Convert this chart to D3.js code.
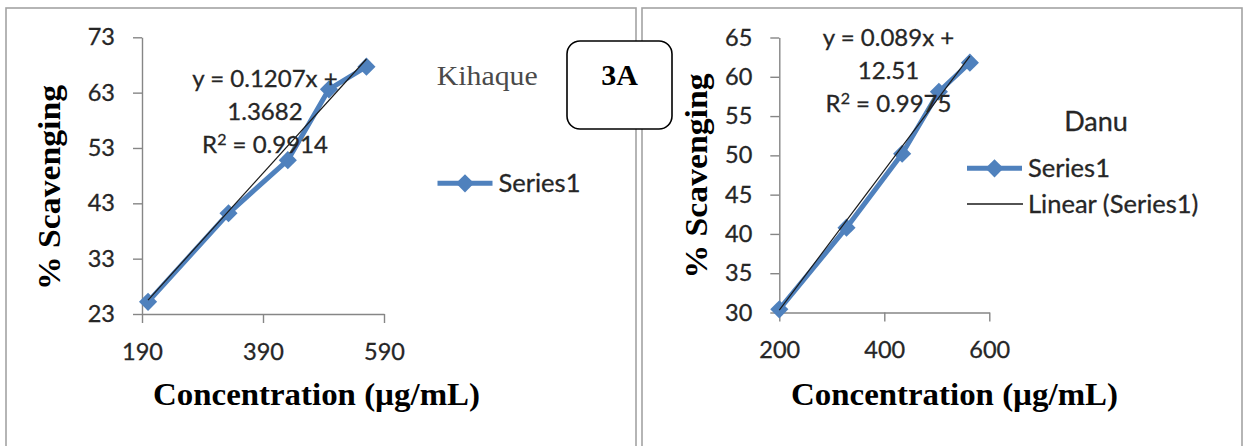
<!DOCTYPE html>
<html>
<head>
<meta charset="utf-8">
<script src="https://cdn.jsdelivr.net/npm/d3@7"></script>
<style>
  html, body { margin: 0; padding: 0; background: #fff; }
  svg { display: block; }
</style>
</head>
<body>
<svg id="chart" width="1243" height="446"></svg>
<script>
// DPPH scavenging vs. concentration for two cultivars

// Kihaque
const kihaqueConc = [200, 333, 431, 499, 561];
const kihaqueScav = [25.2, 41.2, 50.8, 63.6, 67.7];
const kihaqueXTicks = [190, 390, 590];
const kihaqueYTicks = [23, 33, 43, 53, 63, 73];
const kihaqueFit = [0.1207, 1.3682];          // slope, intercept
const kihaqueEq = ["y = 0.1207x +", "1.3682", "R² = 0.9914"];

// Danu
const danuConc = [200, 328, 434, 504, 563];
const danuScav = [30.4, 40.8, 50.2, 58.1, 61.8];
const danuXTicks = [200, 400, 600];
const danuYTicks = [30, 35, 40, 45, 50, 55, 60, 65];
const danuFit = [0.089, 12.51];
const danuEq = ["y = 0.089x +", "12.51", "R² = 0.9975"];

const BLUE = "#4f81bd";
const AXIS = "#868686";
const TEXT = "#262626";
const SANS = "Lato, 'Open Sans', sans-serif";
const SERIF = "'Liberation Serif', 'Times New Roman', serif";

const svg = d3.select("#chart");
svg.append("rect").attr("width", 1243).attr("height", 446).attr("fill", "#fff");

// panel frames
svg.append("rect").attr("x", 6).attr("y", 8).attr("width", 630).attr("height", 460)
  .attr("fill", "none").attr("stroke", "#a3a3a3").attr("stroke-width", 1.6);
svg.append("rect").attr("x", 642).attr("y", 8).attr("width", 600).attr("height", 460)
  .attr("fill", "none").attr("stroke", "#a3a3a3").attr("stroke-width", 1.6);

const diamond = d3.symbol().type(d3.symbolDiamond2).size(210);

function drawPanel(cfg) {
  const g = svg.append("g");
  const x = d3.scaleLinear().domain(cfg.xDomain).range(cfg.xRange);
  const y = d3.scaleLinear().domain(cfg.yDomain).range(cfg.yRange);

  const yAxis = g.append("g").attr("transform", `translate(${cfg.xRange[0]},0)`)
    .call(d3.axisLeft(y).tickValues(cfg.yTicks).tickFormat(d3.format("d"))
      .tickSize(9).tickSizeOuter(0).tickPadding(18));
  const xAxis = g.append("g").attr("transform", `translate(0,${cfg.yRange[0]})`)
    .call(d3.axisBottom(x).tickValues(cfg.xTicks).tickFormat(d3.format("d"))
      .tickSize(9).tickSizeOuter(0).tickPadding(20));
  [yAxis, xAxis].forEach(a => {
    a.select(".domain").attr("stroke", AXIS).attr("stroke-width", 1.4);
    a.selectAll(".tick line").attr("stroke", AXIS).attr("stroke-width", 1.4);
    a.selectAll(".tick text").attr("fill", TEXT)
      .attr("stroke", TEXT).attr("stroke-width", 0.3)
      .style("font-family", SANS).style("font-size", "23.5px");
  });

  const pts = cfg.conc.map((c, i) => [c, cfg.scav[i]]);

  // data series
  g.append("path").datum(pts)
    .attr("d", d3.line().x(d => x(d[0])).y(d => y(d[1])))
    .attr("fill", "none").attr("stroke", BLUE).attr("stroke-width", 5)
    .attr("stroke-linejoin", "round");
  g.selectAll(".mk").data(pts).join("path")
    .attr("transform", d => `translate(${x(d[0])},${y(d[1])})`)
    .attr("d", diamond).attr("fill", BLUE);

  // linear trendline from the fitted equation
  const [m, b] = cfg.fit;
  const xs = d3.extent(cfg.conc);
  g.append("path").datum(xs.map(v => [v, m * v + b]))
    .attr("d", d3.line().x(d => x(d[0])).y(d => y(d[1])))
    .attr("fill", "none").attr("stroke", "#1a1a1a").attr("stroke-width", 1.2);

  // equation label; the "²" is set as a raised, smaller digit
  const eq = g.append("text").attr("text-anchor", "middle")
    .attr("stroke", TEXT).attr("stroke-width", 0.3)
    .style("font-family", SANS).style("font-size", "24px").attr("fill", TEXT);
  cfg.eq.forEach((line, i) => {
    const yy = cfg.eqY + i * 33;
    const parts = line.split("²");
    if (parts.length === 1) {
      eq.append("tspan").attr("x", cfg.eqX).attr("y", yy).text(line);
    } else {
      eq.append("tspan").attr("x", cfg.eqX).attr("y", yy).text(parts[0])
        .append("tspan").attr("dy", -8).style("font-size", "16px").text("2");
      eq.select("tspan:last-child").append("tspan").attr("dy", 8).text(parts[1]);
    }
  });

  // axis titles
  g.append("text").attr("x", cfg.xTitleX).attr("y", 405).attr("text-anchor", "middle")
    .attr("textLength", 327).attr("lengthAdjust", "spacingAndGlyphs")
    .style("font-family", SERIF).style("font-weight", "bold").style("font-size", "31px")
    .attr("fill", "#000").text("Concentration (µg/mL)");
  g.append("text").attr("transform", `translate(${cfg.yTitleX},${cfg.yTitleY}) rotate(-90)`)
    .attr("text-anchor", "middle")
    .attr("textLength", 205).attr("lengthAdjust", "spacingAndGlyphs")
    .style("font-family", SERIF).style("font-weight", "bold").style("font-size", "31px")
    .attr("fill", "#000").text("% Scavenging");
  return g;
}

drawPanel({
  conc: kihaqueConc, scav: kihaqueScav, fit: kihaqueFit, eq: kihaqueEq,
  xDomain: [190, 590], xRange: [142, 384], yDomain: [23, 73], yRange: [314, 37.3],
  xTicks: kihaqueXTicks, yTicks: kihaqueYTicks,
  eqX: 265, eqY: 87, xTitleX: 316.5, yTitleX: 60, yTitleY: 187.5
});
drawPanel({
  conc: danuConc, scav: danuScav, fit: danuFit, eq: danuEq,
  xDomain: [200, 600], xRange: [779.3, 989.3], yDomain: [30, 65], yRange: [312.5, 37.5],
  xTicks: danuXTicks, yTicks: danuYTicks,
  eqX: 888.5, eqY: 46, xTitleX: 954.5, yTitleX: 707, yTitleY: 176
});

// Kihaque title and legend
svg.append("text").attr("x", 436.7).attr("y", 85)
  .attr("textLength", 101).attr("lengthAdjust", "spacingAndGlyphs")
  .style("font-family", SERIF).style("font-size", "28px").attr("fill", "#4a4a4a")
  .text("Kihaque");

function legendSeries(x0, yc, label) {
  svg.append("line").attr("x1", x0).attr("x2", x0 + 55).attr("y1", yc).attr("y2", yc)
    .attr("stroke", BLUE).attr("stroke-width", 5);
  svg.append("path").attr("transform", `translate(${x0 + 27.5},${yc})`)
    .attr("d", diamond).attr("fill", BLUE);
  svg.append("text").attr("x", x0 + 61).attr("y", yc + 8.5)
    .attr("stroke", TEXT).attr("stroke-width", 0.3)
    .style("font-family", SANS).style("font-size", "25.5px").attr("fill", TEXT).text(label);
}
legendSeries(437.5, 183.3, "Series1");

// Danu title and legend
svg.append("text").attr("x", 1096).attr("y", 131).attr("text-anchor", "middle")
  .attr("stroke", TEXT).attr("stroke-width", 0.3)
  .style("font-family", SANS).style("font-size", "27px").attr("fill", TEXT).text("Danu");
legendSeries(967, 168.3, "Series1");
svg.append("line").attr("x1", 967).attr("x2", 1023).attr("y1", 204).attr("y2", 204)
  .attr("stroke", "#1a1a1a").attr("stroke-width", 1.4);
svg.append("text").attr("x", 1028).attr("y", 212.5)
  .attr("stroke", TEXT).attr("stroke-width", 0.3)
  .style("font-family", SANS).style("font-size", "25.5px").attr("fill", TEXT).text("Linear (Series1)");

// panel tag
svg.append("rect").attr("x", 567).attr("y", 41).attr("width", 105).attr("height", 88)
  .attr("rx", 13).attr("fill", "#fff").attr("stroke", "#000").attr("stroke-width", 1.6);
svg.append("text").attr("x", 619.5).attr("y", 85).attr("text-anchor", "middle")
  .style("font-family", SERIF).style("font-weight", "bold").style("font-size", "30px")
  .attr("fill", "#000").text("3A");
</script>
</body>
</html>
